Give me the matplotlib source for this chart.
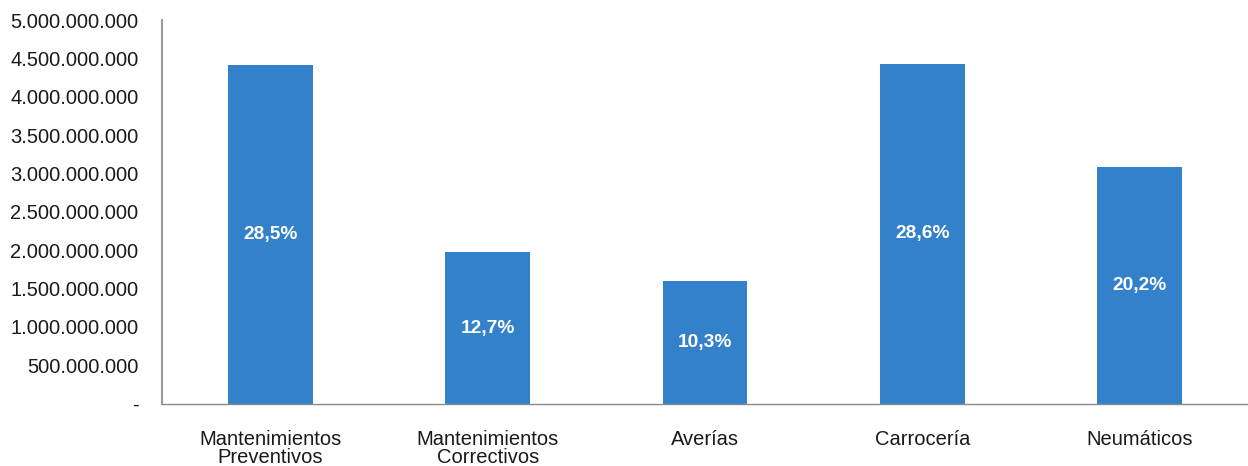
import matplotlib.pyplot as plt
from matplotlib.ticker import FuncFormatter

categories = ["Mantenimientos\nPreventivos", "Mantenimientos\nCorrectivos",
              "Averías", "Carrocería", "Neumáticos"]
values = [4.42e9, 1.97e9, 1.60e9, 4.43e9, 3.09e9]
shares = ["28,5%", "12,7%", "10,3%", "28,6%", "20,2%"]
y_ticks = [0, 5e8, 1e9, 1.5e9, 2e9, 2.5e9, 3e9, 3.5e9, 4e9, 4.5e9, 5e9]

plt.rcParams['font.family'] = ['Liberation Sans', 'DejaVu Sans']


def fmt(v, pos):
    if v == 0:
        return "-"
    return f"{int(v):,}".replace(",", ".")


fig = plt.figure(figsize=(12.48, 4.66), dpi=100)
ax = fig.add_axes([0.1298, 0.134, 0.8702, 0.823])

x = range(len(categories))
bars = ax.bar(x, values, width=0.39, color='#3381CB')
for b, s in zip(bars, shares):
    ax.text(b.get_x() + b.get_width() / 2, b.get_height() / 2, s,
            ha='center', va='center', color='white', fontsize=13.8, fontweight='bold')

ax.set_xlim(-0.5, 4.5)
ax.set_ylim(0, 5e9)
ax.set_yticks(y_ticks)
ax.yaxis.set_major_formatter(FuncFormatter(fmt))
ax.set_xticks(list(x))
ax.set_xticklabels(categories, linespacing=0.95)
ax.tick_params(axis='y', length=0, pad=17, labelsize=14.5, labelcolor='#1a1a1a')
ax.tick_params(axis='x', length=0, pad=19, labelsize=14.5, labelcolor='#1a1a1a')

for side in ['top', 'right']:
    ax.spines[side].set_visible(False)
ax.spines['left'].set_color('#9a9a9a')
ax.spines['left'].set_linewidth(1.5)
ax.spines['bottom'].set_color('#8a8a8a')
ax.spines['bottom'].set_linewidth(1.0)

fig.savefig('out.png', dpi=100)
